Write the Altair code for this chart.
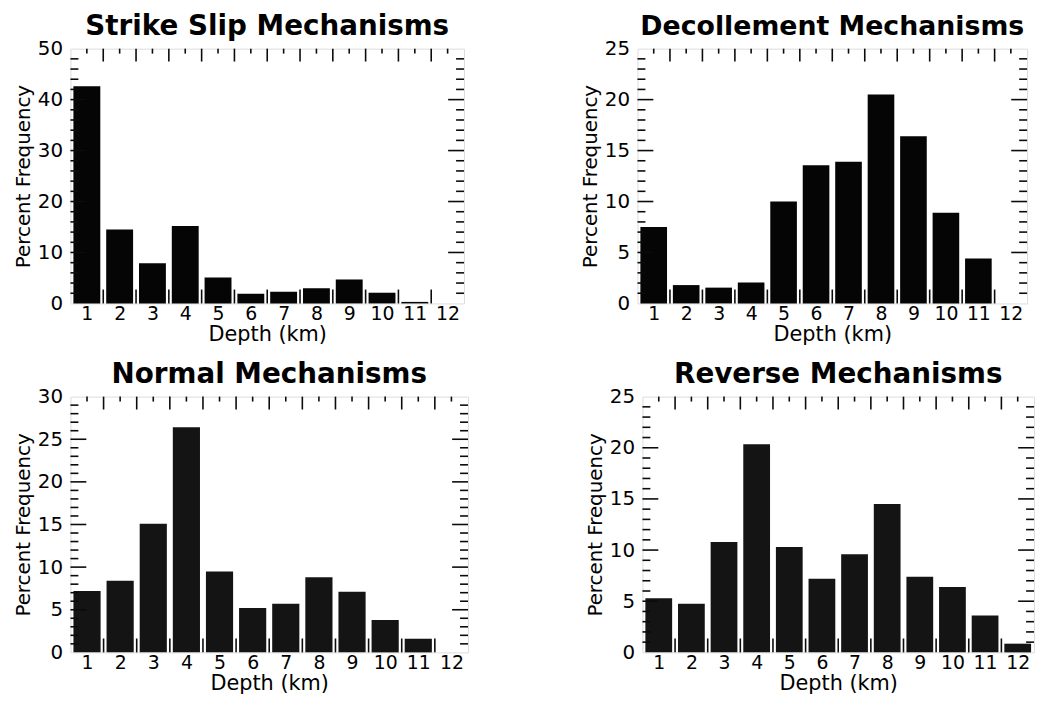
import altair as alt
import pandas as pd

depth = list(range(1, 13))
strike_slip = [42.6, 14.5, 7.9, 15.2, 5.1, 1.9, 2.3, 3.0, 4.7, 2.1, 0.3, 0.0]
decollement = [7.5, 1.8, 1.55, 2.05, 10.0, 13.55, 13.9, 20.5, 16.4, 8.9, 4.4, 0.0]
normal = [7.2, 8.4, 15.1, 26.4, 9.5, 5.2, 5.7, 8.8, 7.1, 3.8, 1.6, 0.0]
reverse = [5.3, 4.75, 10.8, 20.35, 10.3, 7.2, 9.6, 14.5, 7.4, 6.4, 3.6, 0.85]

titles = ["Strike Slip Mechanisms", "Decollement Mechanisms",
          "Normal Mechanisms", "Reverse Mechanisms"]
y_max = [50, 25, 30, 25]
y_major = [10, 5, 5, 5]
y_minor = [2, 1, 1, 1]

FONT = "DejaVu Sans"
INK = "#0b0b0b"
X_TITLE = "Depth (km)"
Y_TITLE = "Percent Frequency"


def panel(values, title, ymax, major, minor, W, H, bar_color, title_size=28):
    df = pd.DataFrame({"depth": depth, "pct": values})
    xs = alt.Scale(domain=[0.5, 12.5], nice=False, zero=False)
    ys = alt.Scale(domain=[0, ymax], nice=False, zero=True)

    xaxis = alt.Axis(values=depth, format="d", tickSize=0, domain=False,
                     grid=False, labelFontSize=19, labelPadding=1,
                     labelFont=FONT, titleFont=FONT, titleFontSize=21,
                     titleFontWeight="normal", titlePadding=0,
                     labelColor="black", titleColor="black",
                     labelFlush=False, labelOverlap=False)
    yaxis = alt.Axis(values=list(range(0, ymax + 1, major)), tickSize=0,
                     domain=False, grid=False, labelFontSize=20,
                     labelPadding=8, labelFont=FONT, titleFont=FONT,
                     titleFontSize=20, titleFontWeight="normal",
                     titlePadding=4, labelColor="black",
                     titleColor="black", labelFlush=False,
                     labelOverlap=False)

    bx = lambda f: alt.X(f, scale=xs, axis=xaxis, title=X_TITLE)
    by = lambda f: alt.Y(f, scale=ys, axis=yaxis, title=Y_TITLE)

    bars = alt.Chart(df).transform_calculate(
        x0="datum.depth - 0.41", x1="datum.depth + 0.41"
    ).mark_bar(color=bar_color).encode(
        x=bx("x0:Q"), x2="x1:Q", y=by("pct:Q"), y2=alt.datum(0),
    )

    bnd = pd.DataFrame({"b": [i + 0.5 for i in range(1, 12)]})
    ctr = pd.DataFrame({"c": depth})
    ymaj = pd.DataFrame({"v": list(range(major, ymax, major))})
    ymin = pd.DataFrame({"v": [v for v in range(minor, ymax, minor) if v % major != 0]})

    rule = dict(color=INK, strokeWidth=1.6)
    bottom_ticks = alt.Chart(bnd).mark_rule(**rule).encode(
        x=bx("b:Q"), y=alt.value(H), y2=alt.value(H - 14))
    top_ticks = alt.Chart(bnd).mark_rule(**rule).encode(
        x=bx("b:Q"), y=alt.value(0), y2=alt.value(13))
    top_minor = alt.Chart(ctr).mark_rule(**rule).encode(
        x=bx("c:Q"), y=alt.value(0), y2=alt.value(5))
    left_major = alt.Chart(ymaj).mark_rule(**rule).encode(
        y=by("v:Q"), x=alt.value(0), x2=alt.value(16))
    left_minor = alt.Chart(ymin).mark_rule(**rule).encode(
        y=by("v:Q"), x=alt.value(0), x2=alt.value(8))
    right_major = alt.Chart(ymaj).mark_rule(**rule).encode(
        y=by("v:Q"), x=alt.value(W), x2=alt.value(W - 16))
    right_minor = alt.Chart(ymin).mark_rule(**rule).encode(
        y=by("v:Q"), x=alt.value(W), x2=alt.value(W - 8))

    return alt.layer(
        bars, bottom_ticks, top_ticks, top_minor,
        left_major, left_minor, right_major, right_minor
    ).properties(
        width=W, height=H,
        title=alt.TitleParams(title, font=FONT, fontSize=title_size,
                              fontWeight="bold", color="black",
                              anchor="middle", offset=-2),
    )


p1 = panel(strike_slip, titles[0], y_max[0], y_major[0], y_minor[0], 397, 257, "#050505")
p2 = panel(decollement, titles[1], y_max[1], y_major[1], y_minor[1], 393, 257, "#050505", 27)
p3 = panel(normal, titles[2], y_max[2], y_major[2], y_minor[2], 401, 258, "#141414")
p4 = panel(reverse, titles[3], y_max[3], y_major[3], y_minor[3], 395, 258, "#141414")

row1 = alt.hconcat(p1, p2, spacing=115)
row2 = alt.hconcat(p3, p4, spacing=116)
chart = alt.vconcat(row1, row2, spacing=15).configure_view(
    stroke="black", strokeWidth=2
).configure(padding={"left": 5, "top": 1, "right": 0, "bottom": 0},
            background="white")

chart.save("out.html", embed_options={"renderer": "svg", "actions": False})
